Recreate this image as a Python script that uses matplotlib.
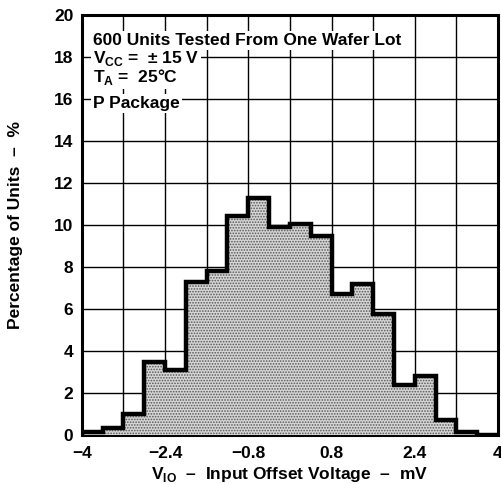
import numpy as np
import matplotlib
matplotlib.use('Agg')
import matplotlib.pyplot as plt

### histogram data (bin width 0.4 mV)
bin_edges = np.round(np.arange(-4.0, 4.01, 0.4), 2)
percent = [0.15, 0.35, 1.0, 3.5, 3.1, 7.3, 7.8, 10.45, 11.3, 9.9,
           10.05, 9.5, 6.7, 7.2, 5.75, 2.4, 2.8, 0.7, 0.15, 0.0]
xticks = [-4, -2.4, -0.8, 0.8, 2.4, 4]
xticklabels = ['\u22124', '\u22122.4', '\u22120.8', '0.8', '2.4', '4']
yticks = list(range(0, 21, 2))
notes = ['600 Units Tested From One Wafer Lot',
         'V$_{\\mathbf{CC}}$ =  \u00b1 15 V',
         'T$_{\\mathbf{A}}$ =  25\u00b0C',
         'P Package']

plt.rcParams['font.family'] = ['Liberation Sans', 'DejaVu Sans']
plt.rcParams['font.weight'] = 'bold'
plt.rcParams['mathtext.fontset'] = 'custom'
plt.rcParams['mathtext.bf'] = 'Liberation Sans:bold'
plt.rcParams['mathtext.rm'] = 'Liberation Sans:bold'
plt.rcParams['hatch.linewidth'] = 0.8

fig = plt.figure(figsize=(5.02, 4.84), dpi=100)
ax = fig.add_axes([0.163, 0.101, 0.829, 0.868])

ax.set_xlim(-4, 4)
ax.set_ylim(0, 20)
ax.set_xticks(np.round(np.arange(-4, 4.01, 0.8), 2), minor=True)
ax.set_xticks(xticks)
ax.set_xticklabels(xticklabels)
ax.set_yticks(yticks)
ax.grid(True, which='both', color='black', linewidth=1.0)
ax.tick_params(which='both', length=0, labelsize=12.5, pad=6)
ax.tick_params(axis='x', pad=8)
for s in ax.spines.values():
    s.set_linewidth(2.2)

ax.stairs(percent, bin_edges, fill=True, facecolor='#d6d6d6', hatch='......',
          edgecolor='#555555', linewidth=0, zorder=3)
ax.stairs(percent, bin_edges, color='black', linewidth=3.2, zorder=4)

### text block: white boxes first, then the text on top
ypos = [18.57, 17.7, 16.82, 15.57]
for t, yy in zip(notes, ypos):
    ax.text(-3.79, yy, t, fontsize=12.5, fontweight='bold', va='baseline', ha='left',
            color='white', zorder=5,
            bbox=dict(facecolor='white', edgecolor='none', pad=1.5))
for t, yy in zip(notes, ypos):
    ax.text(-3.79, yy, t, fontsize=12.5, fontweight='bold', va='baseline', ha='left',
            zorder=6)

ax.set_ylabel('Percentage of Units  \u2013  %', fontsize=12.5, fontweight='bold', labelpad=22)
ax.set_xlabel('V$_{\\mathbf{IO}}$  \u2013  Input Offset Voltage  \u2013  mV', fontsize=12.5,
              fontweight='bold', labelpad=3)

plt.savefig('out.png', dpi=100)
